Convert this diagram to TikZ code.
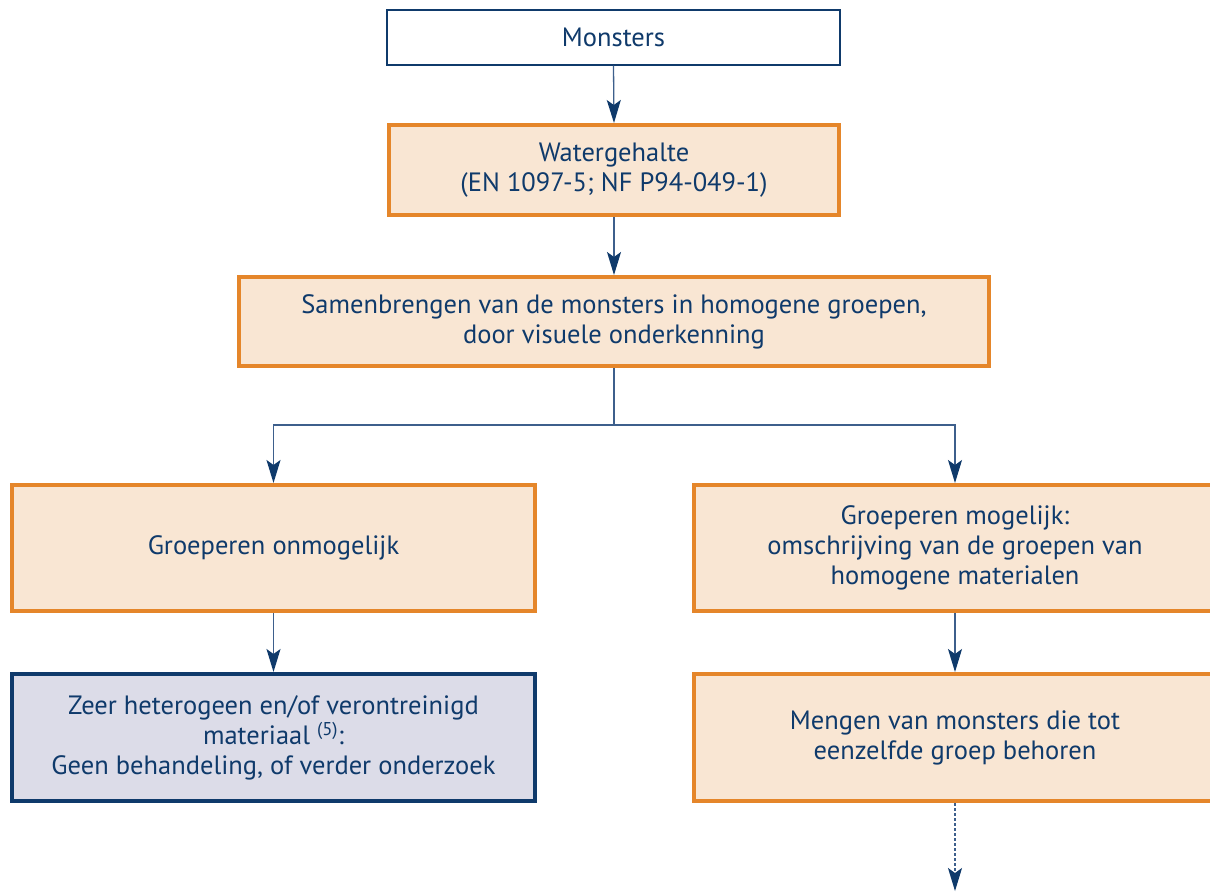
\documentclass[tikz,border=0pt]{standalone}
\usepackage{fontspec}
\setmainfont{PT Sans}
\usetikzlibrary{arrows.meta}
\definecolor{navy}{HTML}{0F3A6B}
\definecolor{orng}{HTML}{E5862A}
\definecolor{peach}{HTML}{F9E6D3}
\definecolor{lilac}{HTML}{DCDCE8}
\definecolor{conn}{HTML}{3D5F8C}
\begin{document}
\begin{tikzpicture}[x=1pt,y=-1pt,
  every node/.style={font=\fontsize{26.5}{30}\selectfont, text=navy, align=center, inner sep=0pt},
  whitebox/.style={draw=navy, line width=1.4pt, fill=white, minimum width=453pt, minimum height=55pt},
  orbox/.style={draw=orng, line width=4pt, fill=peach},
  bluebox/.style={draw=navy, line width=4pt, fill=lilac},
  conn/.style={draw=conn, line width=1.3pt},
  arr/.style={conn, -{Stealth[length=23pt,width=14pt,inset=5pt,color=navy]}}
]
\useasboundingbox (0,0) rectangle (1210,892);
\clip (0,0) rectangle (1210,892);
\fill[white] (0,0) rectangle (1210,892);
\node[whitebox] (mon) at (613.5,37.5) {Monsters};
\node[orbox, minimum width=450pt, minimum height=90pt] (wat) at (614,170) {Watergehalte\\(EN 1097-5; NF P94-049-1)};
\node[orbox, minimum width=750pt, minimum height=89pt] (sam) at (614,321.5) {Samenbrengen van de monsters in homogene groepen,\\door visuele onderkenning};
\node[orbox, minimum width=523pt, minimum height=126pt] (gon) at (273.5,548) {Groeperen onmogelijk};
\node[orbox, minimum width=523pt, minimum height=126pt] (gmo) at (955,548) {Groeperen mogelijk:\\omschrijving van de groepen van\\homogene materialen};
\node[bluebox, minimum width=523pt, minimum height=127pt] (zee) at (273.5,737.5) {Zeer heterogeen en/of verontreinigd\\materiaal \textsuperscript{(5)}:\\Geen behandeling, of verder onderzoek};
\node[orbox, minimum width=523pt, minimum height=127pt] (men) at (955,737.5) {Mengen van monsters die tot\\eenzelfde groep behoren};
\coordinate (br) at (614,425);
\coordinate (end) at (955,891);
\draw[arr] (mon.south) -- (wat.north);
\draw[arr] (wat.south) -- (sam.north);
\draw[conn] (sam.south) -- (br);
\draw[arr] (br) -| (gon.north);
\draw[arr] (br) -| (gmo.north);
\draw[arr] (gon.south) -- (zee.north);
\draw[arr] (gmo.south) -- (men.north);
\draw[arr, dashed, dash pattern=on 3pt off 2pt] (men.south) -- (end);
\end{tikzpicture}
\end{document}
